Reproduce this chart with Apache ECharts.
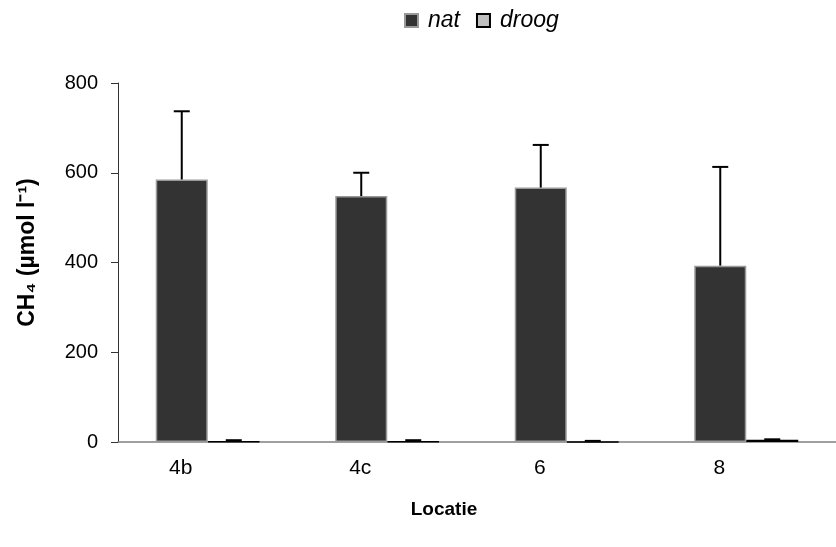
<!DOCTYPE html>
<html>
<head>
<meta charset="utf-8">
<script src="https://cdn.jsdelivr.net/npm/echarts@6/dist/echarts.min.js"></script>
<style>
html,body{margin:0;padding:0;background:#fff;}
#chart{width:836px;height:547px;}
</style>
</head>
<body>
<div id="chart"></div>
<script>
// Methane concentration per sampling location, wet vs dry
const categories = ['4b', '4c', '6', '8'];
const natValues = [585, 548, 567, 393];
const natErrors = [152, 52, 95, 220];
const droogValues = [1, 1, 0.5, 5];
const droogErrors = [3, 3, 2, 1];
const yTicks = [0, 200, 400, 600, 800];

const BAR_W = 52;
const FONT = 'Liberation Sans, Arial, sans-serif';

function errorSeries(name, values, errors, offset) {
  return {
    type: 'custom',
    name: name + '-err',
    z: 5,
    silent: true,
    data: values.map((v, i) => [i, v, v + errors[i]]),
    renderItem: function (params, api) {
      const base = api.coord([api.value(0), api.value(1)]);
      const top = api.coord([api.value(0), api.value(2)]);
      const x = base[0] + offset;
      const capHalf = 8;
      return {
        type: 'group',
        children: [
          { type: 'line', shape: { x1: x, y1: base[1], x2: x, y2: top[1] },
            style: { stroke: '#000', lineWidth: 2 } },
          { type: 'line', shape: { x1: x - capHalf, y1: top[1], x2: x + capHalf, y2: top[1] },
            style: { stroke: '#000', lineWidth: 2 } }
        ]
      };
    }
  };
}

const chart = echarts.init(document.getElementById('chart'));
chart.setOption({
  animation: false,
  backgroundColor: '#fff',
  textStyle: { fontFamily: FONT },
  legend: {
    data: ['nat', 'droog'],
    left: 399,
    top: 4,
    itemWidth: 13,
    itemHeight: 13,
    itemGap: 16,
    icon: 'rect',
    textStyle: { fontSize: 23, fontStyle: 'italic', color: '#000', fontFamily: FONT, padding: [0, 0, 0, 5] }
  },
  grid: { left: 118, right: 0, top: 83, bottom: 105, containLabel: false },
  xAxis: {
    type: 'category',
    data: categories,
    name: 'Locatie',
    nameLocation: 'middle',
    nameGap: 58,
    nameTextStyle: { fontSize: 19, fontWeight: 'bold', color: '#000', padding: [0, 66, 0, 0] },
    axisLine: { lineStyle: { color: '#808080', width: 1.5 } },
    axisTick: { show: false },
    axisLabel: { fontSize: 21, color: '#000', margin: 16, padding: [0, 54, 0, 0] },
    splitLine: { show: false }
  },
  yAxis: {
    type: 'value',
    min: 0,
    max: yTicks[yTicks.length - 1],
    interval: yTicks[1] - yTicks[0],
    name: 'CH\u2084 (\u00b5mol l\u207b\u00b9)',
    nameLocation: 'middle',
    nameRotate: 90,
    nameGap: 79,
    nameTextStyle: { fontSize: 23, fontWeight: 'bold', color: '#000', padding: [0, 0, 0, 20] },
    axisLine: { show: true, lineStyle: { color: '#333', width: 1 } },
    axisTick: { show: true, inside: false, length: 7, lineStyle: { color: '#333' } },
    axisLabel: { fontSize: 20, color: '#000', margin: 20 },
    splitLine: { show: false }
  },
  series: [
    {
      name: 'nat',
      type: 'bar',
      data: natValues,
      barWidth: BAR_W,
      barGap: '0%',
      itemStyle: { color: '#333333', borderColor: '#999999', borderWidth: 1.5 }
    },
    {
      name: 'droog',
      type: 'bar',
      data: droogValues,
      barWidth: BAR_W,
      barGap: '0%',
      itemStyle: { color: '#c0c0c0', borderColor: '#000000', borderWidth: 1.5 }
    },
    errorSeries('nat', natValues, natErrors, -BAR_W / 2),
    errorSeries('droog', droogValues, droogErrors, BAR_W / 2)
  ]
});
</script>
</body>
</html>
